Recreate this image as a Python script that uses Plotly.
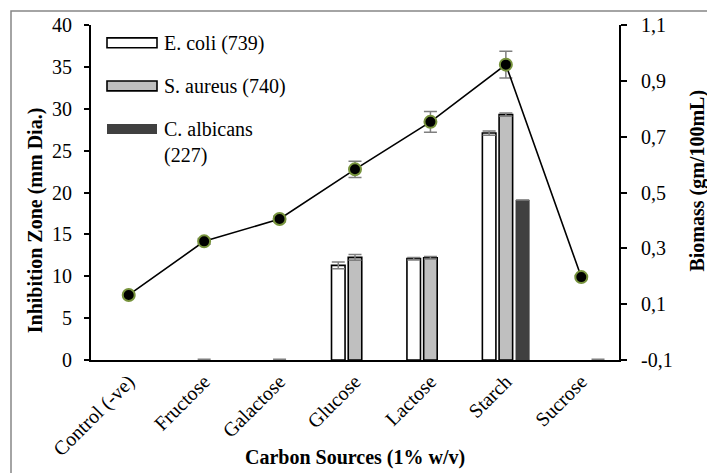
import plotly.graph_objects as go

# Carbon sources tested (1% w/v)
categories = ["Control (-ve)", "Fructose", "Galactose", "Glucose", "Lactose", "Starch", "Sucrose"]

# Inhibition zone diameters (mm) per organism; None = no zone recorded
ecoli = [None, None, None, 11.3, 12.1, 27.1, None]
ecoli_err = [0, 0, 0, 0.4, 0.15, 0.25, 0]
saureus = [None, 0, 0, 12.25, 12.2, 29.3, None]
saureus_err = [0, 0.1, 0.1, 0.35, 0.15, 0.2, 0]
calbicans = [None, None, None, None, None, 19.1, 0]
calbicans_err = [0, 0, 0, 0, 0, 0, 0.1]

# Biomass yield (gm/100mL)
biomass = [0.133, 0.325, 0.405, 0.583, 0.753, 0.958, 0.197]
biomass_err = [0.005, 0.01, 0.01, 0.029, 0.037, 0.048, 0.005]

# Right-axis tick labels (comma decimal)
biomass_ticks = [-0.1, 0.1, 0.3, 0.5, 0.7, 0.9, 1.1]
biomass_ticktext = ["-0,1", "0,1", "0,3", "0,5", "0,7", "0,9", "1,1"]

legend_names = ["E. coli (739)", "S. aureus (740)", "C. albicans<br>(227)"]

FONT = "Liberation Serif"
FS = 20
ERR_COLOR = "#7f7f7f"

fig = go.Figure()

bar_styles = [
    (ecoli, ecoli_err, "#ffffff", "#000000", 1.6),
    (saureus, saureus_err, "#bfbfbf", "#000000", 1.6),
    (calbicans, calbicans_err, "#404040", "#404040", 0.5),
]
for (vals, err, fill, edge, lw), name in zip(bar_styles, legend_names):
    fig.add_trace(go.Bar(
        x=categories, y=vals, name=name, showlegend=False,
        marker=dict(color=fill,
                    line=dict(color=edge,
                              width=[lw if (v or 0) > 0 else 0 for v in vals])),
        error_y=dict(type="data", array=err, visible=True, color=ERR_COLOR,
                     thickness=1.5, width=6.5),
        yaxis="y",
    ))

fig.add_trace(go.Scatter(
    x=categories, y=biomass, mode="lines+markers", showlegend=False,
    line=dict(color="#000000", width=1.6),
    marker=dict(color="#000000", size=12, line=dict(color="#77933c", width=2)),
    error_y=dict(type="data", array=biomass_err, visible=True, color=ERR_COLOR,
                 thickness=1.5, width=6.5),
    yaxis="y2",
))

fig.update_layout(
    width=707, height=473,
    margin=dict(l=91, r=88, t=25, b=110),
    paper_bgcolor="#ffffff", plot_bgcolor="#ffffff",
    font=dict(family=FONT, size=FS, color="#000000"),
    barmode="group", bargap=0.335, bargroupgap=0.19,
    separators=",.",
    xaxis=dict(
        showline=True, linecolor="#000000", linewidth=2,
        showgrid=False, ticks="", tickangle=-45,
        tickfont=dict(family=FONT, size=FS),
        zeroline=False,
    ),
    yaxis=dict(
        range=[0, 40], dtick=5, showgrid=False, zeroline=False,
        showline=True, linecolor="#000000", linewidth=2,
        ticks="outside", ticklen=5, tickwidth=2, tickcolor="#000000",
        ticklabelstandoff=8,
        tickfont=dict(family=FONT, size=FS),
    ),
    yaxis2=dict(
        range=[-0.1, 1.1], overlaying="y", side="right",
        tickvals=biomass_ticks, ticktext=biomass_ticktext,
        showgrid=False, zeroline=False,
        showline=True, linecolor="#000000", linewidth=2,
        ticks="outside", ticklen=6, tickwidth=2, tickcolor="#000000",
        ticklabelstandoff=10,
        tickfont=dict(family=FONT, size=FS),
    ),
)

# Plot area in pixels, used to place paper-referenced decorations
L, R, T, B = 91, 619, 25, 363
PW, PH = R - L, B - T


def px(xp):
    return (xp - L) / PW


def py(yp):
    return (B - yp) / PH


# Axis titles
fig.add_annotation(x=px(355), y=py(461), xref="paper", yref="paper",
                   xanchor="center", yanchor="middle",
                   text="<b>Carbon Sources (1% w/v)</b>", showarrow=False,
                   font=dict(family=FONT, size=FS))
fig.add_annotation(x=px(35), y=py(222), xref="paper", yref="paper",
                   xanchor="center", yanchor="middle",
                   text="<b>Inhibition Zone (mm Dia.)</b>", textangle=-90,
                   showarrow=False, font=dict(family=FONT, size=FS))
fig.add_annotation(x=px(698), y=py(182), xref="paper", yref="paper",
                   xanchor="center", yanchor="middle",
                   text="<b>Biomass (gm/100mL)</b>", textangle=-90,
                   showarrow=False, font=dict(family=FONT, size=FS))

# Legend keys and labels
legend_keys = [
    (43, "#ffffff", "#000000", 1.6),
    (86.5, "#bfbfbf", "#000000", 1.6),
    (130, "#404040", "#404040", 0),
]
for (cy, fill, edge, lw), name in zip(legend_keys, legend_names):
    fig.add_shape(type="rect", xref="paper", yref="paper",
                  x0=px(107), x1=px(157), y0=py(cy + 5), y1=py(cy - 5),
                  fillcolor=fill, line=dict(color=edge, width=lw))
    fig.add_annotation(x=px(162), y=py(cy - 13), xref="paper", yref="paper",
                       text=name, showarrow=False, xanchor="left",
                       yanchor="top", align="left",
                       font=dict(family=FONT, size=FS))

# Chart frame
fig.add_shape(type="rect", xref="paper", yref="paper",
              x0=px(11), x1=px(760), y0=py(520), y1=py(11),
              line=dict(color="#868686", width=1.5), fillcolor="rgba(0,0,0,0)",
              layer="below")

fig.write_html("out.html")
